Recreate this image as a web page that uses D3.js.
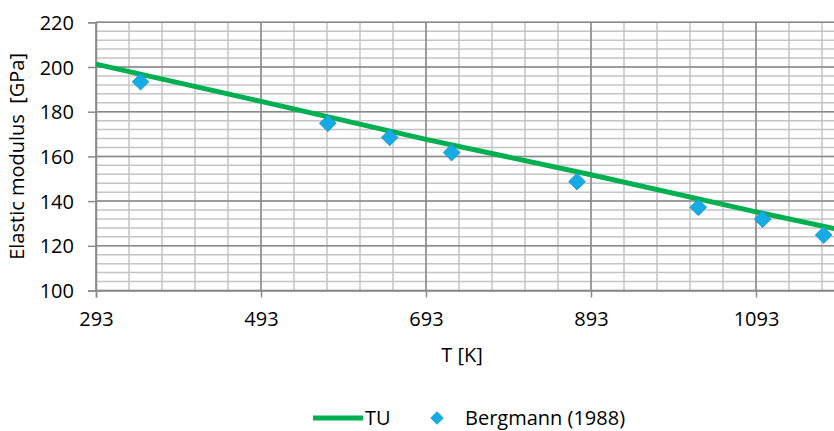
<!DOCTYPE html>
<html>
<head>
<meta charset="utf-8">
<script src="https://cdn.jsdelivr.net/npm/d3@7"></script>
<style>
  html, body { margin: 0; padding: 0; background: #fff; }
  svg text { font-family: "Open Sans", "Noto Sans", sans-serif; fill: #000; }
</style>
</head>
<body>
<svg id="chart" width="834" height="431"></svg>
<script>
// ---- data ----
const xTicks = [293, 493, 693, 893, 1093];
const yTicks = [100, 120, 140, 160, 180, 200, 220];
const tuT = [293, 493, 693, 893, 1093, 1193];
const tuE = [201.3, 184.6, 167.6, 151.8, 135.2, 127.3];
const bergT = [347, 574, 649, 724, 876, 1023, 1101, 1175];
const bergE = [193.4, 174.8, 168.5, 161.7, 148.7, 137.2, 131.9, 124.8];
const seriesNames = ["TU", "Bergmann (1988)"];
const xTitle = "T [K]";
const yTitle = "Elastic modulus\u00a0 [GPa]";

// ---- layout ----
const FS = 20;
const svg = d3.select("#chart");
const L = 96, T = 22.3, B = 290.5;
const x = d3.scaleLinear().domain([293, 1193]).range([L, L + 900 * 0.825]);
const y = d3.scaleLinear().domain([100, 220]).range([B, T]);
const R = x.range()[1];

const g = svg.append("g");

// minor grid
const xMinor = d3.range(293, 1194, 40);
const yMinor = d3.range(100, 221, 4);
g.selectAll(".vmin").data(xMinor).enter().append("line")
  .attr("x1", d => x(d)).attr("x2", d => x(d)).attr("y1", T).attr("y2", B)
  .attr("stroke", "#c4c4c4").attr("stroke-width", 1.5);
g.selectAll(".hmin").data(yMinor).enter().append("line")
  .attr("x1", L).attr("x2", R).attr("y1", d => y(d)).attr("y2", d => y(d))
  .attr("stroke", "#c4c4c4").attr("stroke-width", 1.5);
// major grid
g.selectAll(".vmaj").data(xTicks).enter().append("line")
  .attr("x1", d => x(d)).attr("x2", d => x(d)).attr("y1", T).attr("y2", B)
  .attr("stroke", "#8a8a8a").attr("stroke-width", 1.5);
g.selectAll(".hmaj").data(yTicks).enter().append("line")
  .attr("x1", L).attr("x2", R).attr("y1", d => y(d)).attr("y2", d => y(d))
  .attr("stroke", "#8a8a8a").attr("stroke-width", 1.5);

// axes
const xAxis = d3.axisBottom(x).tickValues(xTicks).tickSize(7).tickPadding(14).tickFormat(d3.format("d"));
const yAxis = d3.axisLeft(y).tickValues(yTicks).tickSize(8).tickPadding(14).tickFormat(d3.format("d"));
const gx = svg.append("g").attr("transform", `translate(0,${B})`).call(xAxis);
const gy = svg.append("g").attr("transform", `translate(${L},0)`).call(yAxis);
[gx, gy].forEach(a => {
  a.select(".domain").attr("stroke", "#8a8a8a").attr("stroke-width", 1.5);
  a.selectAll(".tick line").attr("stroke", "#8a8a8a").attr("stroke-width", 1.5);
  a.selectAll(".tick text").attr("font-size", FS).attr("font-family", "'Open Sans', sans-serif").attr("fill", "#000");
});
gy.selectAll(".tick text").attr("dy", "0.35em");

// TU line
const line = d3.line().x((d, i) => x(tuT[i])).y(d => y(d));
svg.append("path").datum(tuE).attr("d", line)
  .attr("fill", "none").attr("stroke", "#00B050").attr("stroke-width", 5);

// Bergmann points
const diamond = d3.symbol().type(d3.symbolSquare).size(140);
svg.selectAll(".pt").data(bergE).enter().append("path")
  .attr("d", diamond)
  .attr("transform", (d, i) => `translate(${x(bergT[i])},${y(d)}) rotate(45)`)
  .attr("fill", "#17ABE6").attr("stroke", "#1399D0").attr("stroke-width", 0.8);

// titles
svg.append("text").attr("x", 462).attr("y", 362).attr("text-anchor", "middle")
  .attr("font-size", FS).text(xTitle);
svg.append("text").attr("transform", `translate(24,${(T + B) / 2}) rotate(-90)`)
  .attr("text-anchor", "middle").attr("font-size", FS).text(yTitle);

// legend
const lg = svg.append("g");
lg.append("line").attr("x1", 313).attr("x2", 363).attr("y1", 418).attr("y2", 418)
  .attr("stroke", "#00B050").attr("stroke-width", 5);
lg.append("text").attr("x", 365).attr("y", 425).attr("font-size", FS).text(seriesNames[0]);
lg.append("path").attr("d", d3.symbol().type(d3.symbolSquare).size(90))
  .attr("transform", "translate(437,418) rotate(45)").attr("fill", "#17ABE6");
lg.append("text").attr("x", 465).attr("y", 425).attr("font-size", FS).text(seriesNames[1]);
</script>
</body>
</html>
